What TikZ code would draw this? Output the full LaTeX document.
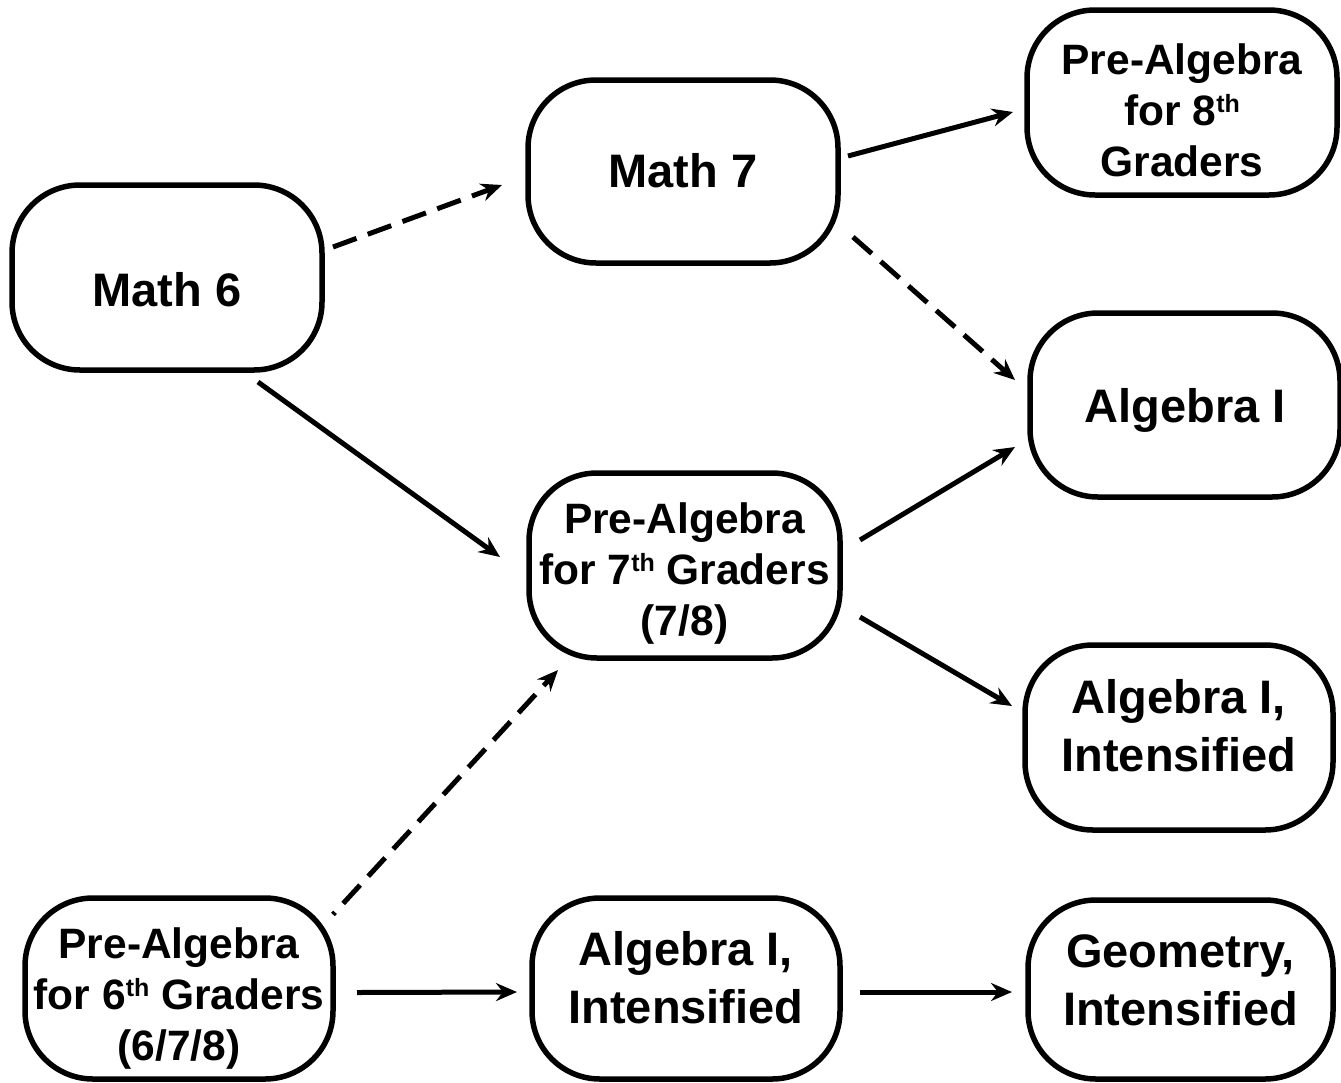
\documentclass[tikz,border=0pt]{standalone}
\usepackage{fontspec}
\setmainfont{Liberation Sans}
\usetikzlibrary{arrows.meta}
\newcommand{\bt}[2]{\raisebox{#1}[\height][\depth]{\begin{tabular}{@{}c@{}}#2\end{tabular}}}
\newcommand{\thsup}{\raisebox{13pt}{\fontsize{25}{25}\selectfont th}}
\tikzset{
  crs/.style={draw, line width=5.5pt, rounded corners=68pt, inner sep=0pt, outer sep=0pt, fill=white},
  big/.style={font=\bfseries\fontsize{47}{58}\selectfont},
  mid/.style={font=\bfseries\fontsize{42.5}{51}\selectfont},
  arr/.style={line width=5pt, -{Stealth[length=21pt,width=18pt,inset=7pt]}},
  dsh/.style={arr, dash pattern=on 25pt off 12pt},
}
\begin{document}
\begin{tikzpicture}[x=1pt,y=-1pt]
\useasboundingbox (0,0) rectangle (1341,1082);
\fill[white] (0,0) rectangle (1341,1082);
% boxes
\node[crs,big,minimum width=310pt,minimum height=185pt] (m6) at (167,277.5) {\bt{-17pt}{Math 6}};
\node[crs,big,minimum width=310pt,minimum height=183pt] (m7) at (683,171.5) {\bt{-4pt}{Math 7}};
\node[crs,mid,minimum width=310pt,minimum height=185pt] (p8) at (1182,102.5) {\bt{-13pt}{Pre-Algebra\\for 8\thsup\\Graders}};
\node[crs,big,minimum width=310pt,minimum height=184pt] (a1) at (1185,405) {\bt{-6pt}{Algebra I}};
\node[crs,mid,minimum width=311pt,minimum height=185pt] (p7) at (684.5,565.5) {\bt{-9pt}{Pre-Algebra\\for 7\thsup{} Graders\\(7/8)}};
\node[crs,big,minimum width=308pt,minimum height=185pt] (air) at (1179,737.5) {\bt{7pt}{Algebra I,\\Intensified}};
\node[crs,mid,minimum width=308pt,minimum height=181pt] (p6) at (179,988.5) {\bt{-11pt}{Pre-Algebra\\for 6\thsup{} Graders\\(6/7/8)}};
\node[crs,big,minimum width=308pt,minimum height=181pt] (aim) at (686,988.5) {\bt{6pt}{Algebra I,\\Intensified}};
\node[crs,big,minimum width=305pt,minimum height=179pt] (geo) at (1180.5,989.5) {\bt{5pt}{Geometry,\\Intensified}};
% connectors
\draw[dsh] ([shift={(11,-30.5)}]m6.east) -- ([shift={(-26,13.5)}]m7.west);
\draw[arr] ([shift={(91,12)}]m6.south) -- ([shift={(-29,-8.5)}]p7.west);
\draw[arr] ([shift={(10,-15.5)}]m7.east) -- ([shift={(-14,9.5)}]p8.west);
\draw[dsh] ([shift={(15,65.5)}]m7.east) -- ([shift={(-15,-25)}]a1.west);
\draw[arr] ([shift={(20,-25.5)}]p7.east) -- ([shift={(-15,42)}]a1.west);
\draw[arr] ([shift={(20,51.5)}]p7.east) -- ([shift={(-13,-31.5)}]air.west);
\draw[dsh, dash phase=22pt] ([shift={(0,-74)}]p6.east) -- ([shift={(-126.5,12)}]p7.south);
\draw[arr] ([shift={(24,4)}]p6.east) -- ([shift={(-15,3.5)}]aim.west);
\draw[arr] ([shift={(20,3.5)}]aim.east) -- ([shift={(-16,2.5)}]geo.west);
\end{tikzpicture}
\end{document}
